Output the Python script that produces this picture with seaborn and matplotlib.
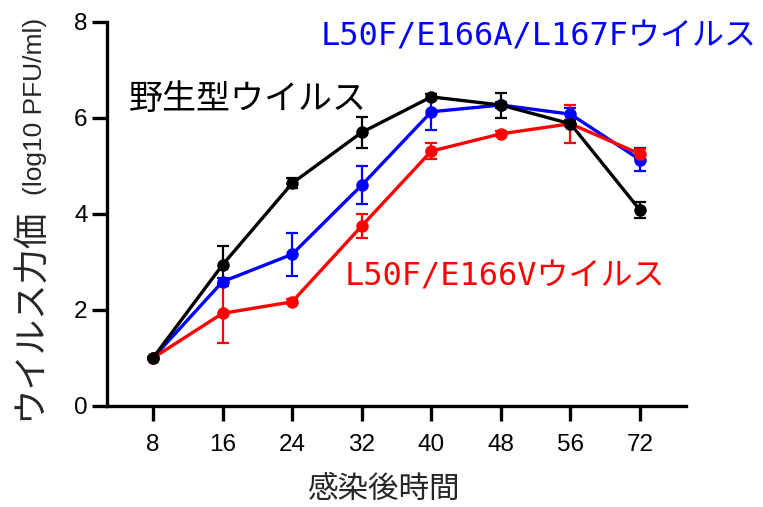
import matplotlib
matplotlib.use("Agg")
import matplotlib.pyplot as plt
import seaborn as sns
import pandas as pd
import numpy as np

# ---- data ----
hours = ["8", "16", "24", "32", "40", "48", "56", "72"]
wt_mean = [1.0, 2.94, 4.64, 5.70, 6.44, 6.27, 5.88, 4.08]
wt_err = [0.03, 0.40, 0.10, 0.33, 0.06, 0.26, 0.05, 0.17]
a_mean = [1.0, 2.59, 3.16, 4.60, 6.13, 6.27, 6.08, 5.13]
a_err = [0.03, 0.08, 0.45, 0.39, 0.38, 0.06, 0.12, 0.24]
v_mean = [1.0, 1.93, 2.17, 3.75, 5.31, 5.67, 5.88, 5.25]
v_err = [0.03, 0.62, 0.05, 0.26, 0.17, 0.05, 0.40, 0.10]
series_names = ["L50F/E166A/L167Fウイルス", "L50F/E166Vウイルス", "野生型ウイルス"]
y_ticks = [0, 2, 4, 6, 8]
x_label = "感染後時間"
y_label_main = "ウイルス力価"
y_label_unit = "(log10 PFU/ml)"

colors = {series_names[0]: "#0000ff", series_names[1]: "#ff0000", series_names[2]: "#000000"}
means = {series_names[0]: a_mean, series_names[1]: v_mean, series_names[2]: wt_mean}
errs = {series_names[0]: a_err, series_names[1]: v_err, series_names[2]: wt_err}

sns.set_theme(style="ticks")
plt.rcParams['font.family'] = ['Noto Sans CJK JP', 'DejaVu Sans']

W, H = 763, 507
fig = plt.figure(figsize=(W / 100, H / 100), dpi=100)
L, R, T, B = 107, 686, 22, 406
ax = fig.add_axes([L / W, (H - B) / H, (R - L) / W, (B - T) / H])

for name in series_names:
    df = pd.DataFrame({"time": hours, "titer": means[name]})
    sns.lineplot(data=df, x="time", y="titer", ax=ax, color=colors[name],
                 linewidth=2.4, marker="o", markersize=9, markeredgewidth=0,
                 sort=False, zorder=3)
    xs = np.arange(len(hours))
    ax.errorbar(xs, means[name], yerr=errs[name], fmt="none", ecolor=colors[name],
                elinewidth=1.6, capsize=4.5, capthick=1.6, zorder=2.5)

ax.set_xlim(-0.66, 7.66)
ax.set_ylim(0, 8)
ax.set_yticks(y_ticks)
ax.set_xticks(range(len(hours)))
ax.set_xticklabels(hours)
for lab in ax.get_xticklabels() + ax.get_yticklabels():
    lab.set_fontfamily(['Liberation Sans', 'DejaVu Sans'])
    lab.set_fontsize(17.5)
ax.tick_params(axis="both", width=2.4, length=11, color="black", labelcolor="black")
ax.tick_params(axis="x", pad=9)
ax.tick_params(axis="y", pad=3)
for s in ["top", "right"]:
    ax.spines[s].set_visible(False)
for s in ["left", "bottom"]:
    ax.spines[s].set_linewidth(2.4)
    ax.spines[s].set_color("black")
    ax.spines[s].set_capstyle("projecting")

ax.set_xlabel("")
ax.set_ylabel("")
fig.text(383 / W, 1 - 489 / H, x_label, ha="center", va="center", fontsize=22,
         family=['Noto Sans CJK JP', 'DejaVu Sans'])
fig.text(30 / W, 1 - 314 / H, y_label_main, ha="center", va="center", rotation=90,
         fontsize=25.5, family=['Noto Sans CJK JP', 'DejaVu Sans'])
fig.text(35 / W, 1 - 106 / H, y_label_unit, ha="center", va="center", rotation=90,
         fontsize=19, family=['Liberation Sans Narrow', 'Liberation Sans', 'DejaVu Sans'])

mono = ['DejaVu Sans Mono', 'Noto Sans CJK JP']
fig.text(757 / W, 1 - 37 / H, series_names[0], ha="right", va="center",
         fontsize=23, color=colors[series_names[0]], family=mono)
fig.text(345 / W, 1 - 277 / H, series_names[1], ha="left", va="center",
         fontsize=23, color=colors[series_names[1]], family=mono)
fig.text(129 / W, 1 - 100 / H, series_names[2], ha="left", va="center",
         fontsize=24.5, color=colors[series_names[2]], family=['Noto Sans CJK JP', 'DejaVu Sans'])

fig.savefig("out.png", dpi=100)
